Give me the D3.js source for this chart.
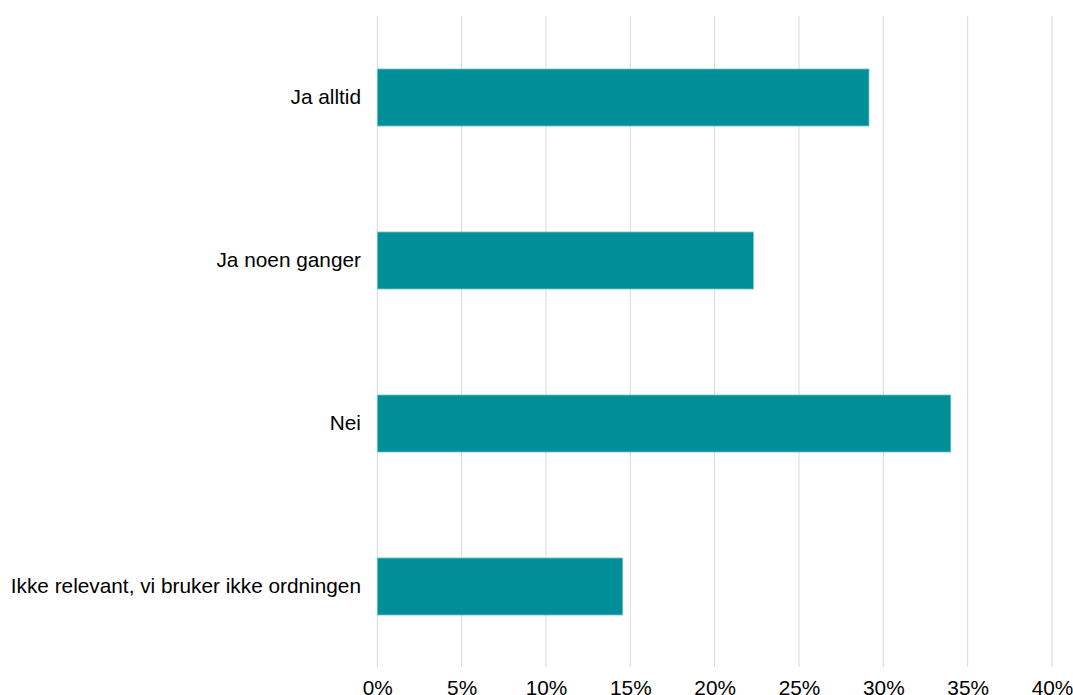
<!DOCTYPE html>
<html><head><meta charset="utf-8">
<script src="https://cdn.jsdelivr.net/npm/d3@7"></script>
<style>body{margin:0;background:#fff}svg{display:block}text{font-family:"Liberation Sans",Arial,sans-serif}</style>
</head><body><svg id="c" width="1073" height="695"></svg>
<script>
const categories = ["Ja alltid","Ja noen ganger","Nei","Ikke relevant, vi bruker ikke ordningen"];
const values = [29.15, 22.3, 34.0, 14.55];
const tickValues = [0,5,10,15,20,25,30,35,40];

const svg = d3.select("#c");
const x = d3.scaleLinear().domain([0,40]).range([377.3,1052]);
const y = d3.scaleBand().domain(categories).range([16,668]).paddingInner(0.65).paddingOuter(0.325);

svg.append("g").selectAll("line").data(tickValues).join("line")
  .attr("x1",d=>x(d)).attr("x2",d=>x(d)).attr("y1",16).attr("y2",667)
  .attr("stroke","#d9d9d9").attr("stroke-width",1);

svg.append("g").selectAll("rect").data(values).join("rect")
  .attr("x",x(0)).attr("y",(d,i)=>y(categories[i]))
  .attr("width",d=>x(d)-x(0)).attr("height",y.bandwidth())
  .attr("fill","#008f98").attr("stroke","#7cc6cb").attr("stroke-width",0.8);

const xa = svg.append("g").attr("transform","translate(0,668)")
  .call(d3.axisBottom(x).tickValues(tickValues).tickFormat(d=>d+"%").tickSize(0));
xa.select(".domain").remove();
xa.selectAll("text").attr("dy",null).attr("y",27).attr("font-size",20.8).attr("fill","#000").attr("font-family","Liberation Sans, Arial, sans-serif");

const ya = svg.append("g").attr("transform","translate(361,0)")
  .call(d3.axisLeft(y).tickSize(0).tickPadding(0));
ya.select(".domain").remove();
ya.selectAll("text").attr("font-size",20.8).attr("fill","#000").attr("font-family","Liberation Sans, Arial, sans-serif");
</script></body></html>
